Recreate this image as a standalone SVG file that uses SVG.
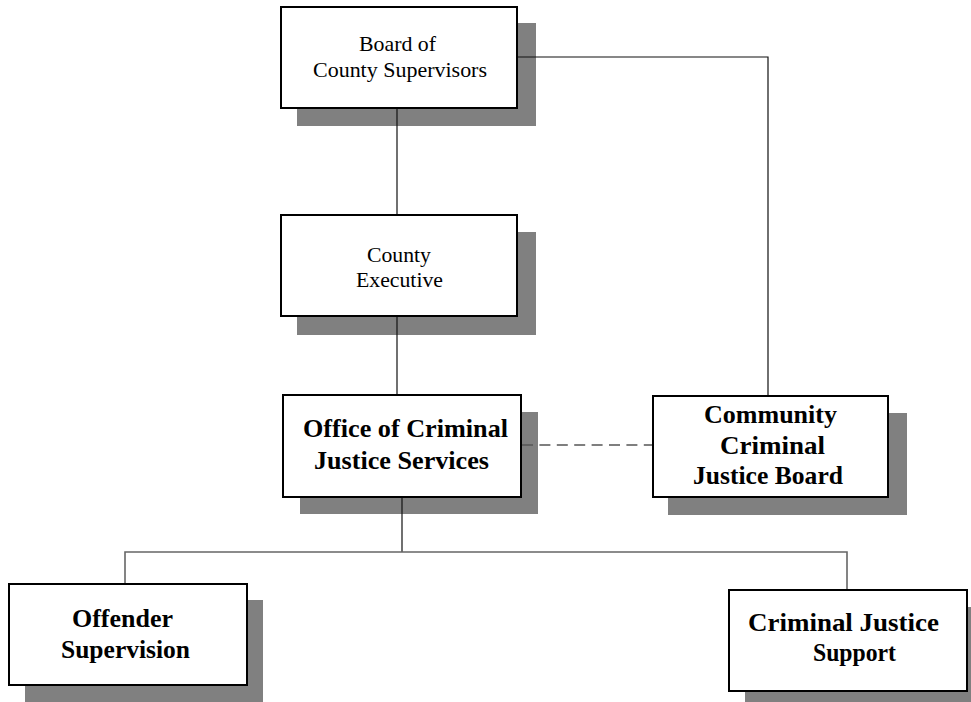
<svg xmlns="http://www.w3.org/2000/svg" width="971" height="702" viewBox="0 0 971 702">
  <style>
    .shadow { fill: #808080; stroke: none; }
    .box { fill: #ffffff; stroke: #000000; stroke-width: 2; }
    .link { fill: none; stroke: #111111; stroke-width: 1.2; }
    .branch { fill: none; stroke: #666666; stroke-width: 1.6; }
    .dash { fill: none; stroke: #555555; stroke-width: 1.6; stroke-dasharray: 11 6.4; }
    text { font-family: "Liberation Serif", "Times New Roman", serif; fill: #000000; }
    .reg { font-size: 22px; }
    .bold { font-size: 25px; font-weight: bold; }
  </style>
  <rect width="971" height="702" fill="#ffffff"/>

  <g id="board">
    <rect class="shadow" x="297" y="23" width="239" height="103"/>
    <rect class="box" x="281" y="7" width="236" height="101"/>
    <text class="reg" x="359" y="51" textLength="77" lengthAdjust="spacingAndGlyphs">Board of</text>
    <text class="reg" x="313" y="77" textLength="174" lengthAdjust="spacingAndGlyphs">County Supervisors</text>
  </g>

  <g id="executive">
    <rect class="shadow" x="297" y="232" width="239" height="103"/>
    <rect class="box" x="281" y="215" width="236" height="101"/>
    <text class="reg" x="367" y="262" textLength="64" lengthAdjust="spacingAndGlyphs">County</text>
    <text class="reg" x="356" y="287" textLength="87" lengthAdjust="spacingAndGlyphs">Executive</text>
  </g>

  <g id="ocjs">
    <rect class="shadow" x="300" y="412" width="238" height="102"/>
    <rect class="box" x="283" y="395" width="238" height="102"/>
    <text class="bold" x="303" y="437" textLength="205" lengthAdjust="spacingAndGlyphs">Office of Criminal</text>
    <text class="bold" x="314" y="469" textLength="175" lengthAdjust="spacingAndGlyphs">Justice Services</text>
  </g>

  <g id="ccjb">
    <rect class="shadow" x="668" y="413" width="239" height="102"/>
    <rect class="box" x="653" y="396" width="235" height="101"/>
    <text class="bold" x="704" y="423" textLength="133" lengthAdjust="spacingAndGlyphs">Community</text>
    <text class="bold" x="720" y="454" textLength="105" lengthAdjust="spacingAndGlyphs">Criminal</text>
    <text class="bold" x="693" y="484" textLength="150" lengthAdjust="spacingAndGlyphs">Justice Board</text>
  </g>

  <g id="offender">
    <rect class="shadow" x="25" y="600" width="238" height="102"/>
    <rect class="box" x="9" y="584" width="238" height="101"/>
    <text class="bold" x="72" y="627" textLength="101" lengthAdjust="spacingAndGlyphs">Offender</text>
    <text class="bold" x="61" y="658" textLength="129" lengthAdjust="spacingAndGlyphs">Supervision</text>
  </g>

  <g id="support">
    <rect class="shadow" x="745" y="607" width="226" height="95"/>
    <rect class="box" x="729" y="590" width="238" height="101"/>
    <text class="bold" x="748" y="631" textLength="191" lengthAdjust="spacingAndGlyphs">Criminal Justice</text>
    <text class="bold" x="813" y="661" textLength="83" lengthAdjust="spacingAndGlyphs">Support</text>
  </g>

  <!-- connectors, drawn over the drop shadows -->
  <g id="connectors">
    <line class="link" x1="397" y1="109" x2="397" y2="214"/>
    <line class="link" x1="397" y1="317" x2="397" y2="394"/>
    <polyline class="link" points="518,57 768,57 768,395"/>
    <line class="dash" x1="522" y1="445" x2="652" y2="445"/>
    <line class="link" x1="402" y1="498" x2="402" y2="552"/>
    <polyline class="branch" points="125,583 125,552 847,552 847,589"/>
  </g>
</svg>
